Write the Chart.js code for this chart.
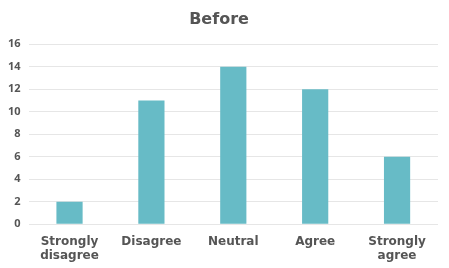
<!DOCTYPE html>
<html><head><meta charset="utf-8">
<script src="https://cdn.jsdelivr.net/npm/chart.js@4/dist/chart.umd.min.js"></script>
<style>html,body{margin:0;padding:0;background:#fff}#w{width:449px;height:268px}</style>
</head><body><div id="w"><canvas id="c"></canvas></div>
<script>
const categories = [["Strongly","disagree"],"Disagree","Neutral","Agree",["Strongly","agree"]];
const values = [2, 11, 14, 12, 6];
const yTicks = [0, 2, 4, 6, 8, 10, 12, 14, 16];
const title = "Before";

new Chart(document.getElementById('c'), {
  type: 'bar',
  data: { labels: categories, datasets: [{ data: values, backgroundColor: '#67BBC6', categoryPercentage: 1, barPercentage: 0.32 }] },
  options: {
    responsive: true, maintainAspectRatio: false, animation: false,
    layout: { padding: { left: 0, right: 11, top: 0, bottom: -5 } },
    plugins: {
      legend: { display: false }, tooltip: { enabled: false },
      title: { display: true, text: title, color: '#555', font: { family: 'DejaVu Sans', size: 16, weight: 'bold' }, padding: { top: 10, bottom: 15 } }
    },
    scales: {
      x: {
        grid: { display: false, drawTicks: false }, border: { display: false },
        ticks: { color: '#555', font: { family: 'DejaVu Sans', size: 12, weight: 'bold' }, padding: 10, maxRotation: 0, autoSkip: false }
      },
      y: {
        min: 0, max: 16,
        afterBuildTicks: (s) => { s.ticks = yTicks.map(v => ({ value: v })); },
        grid: { color: '#e6e6e6', drawTicks: false, lineWidth: 1 }, border: { display: false },
        ticks: { color: '#555', font: { family: 'Open Sans', size: 11, weight: 'bold' }, padding: 8 }
      }
    }
  }
});
</script></body></html>
